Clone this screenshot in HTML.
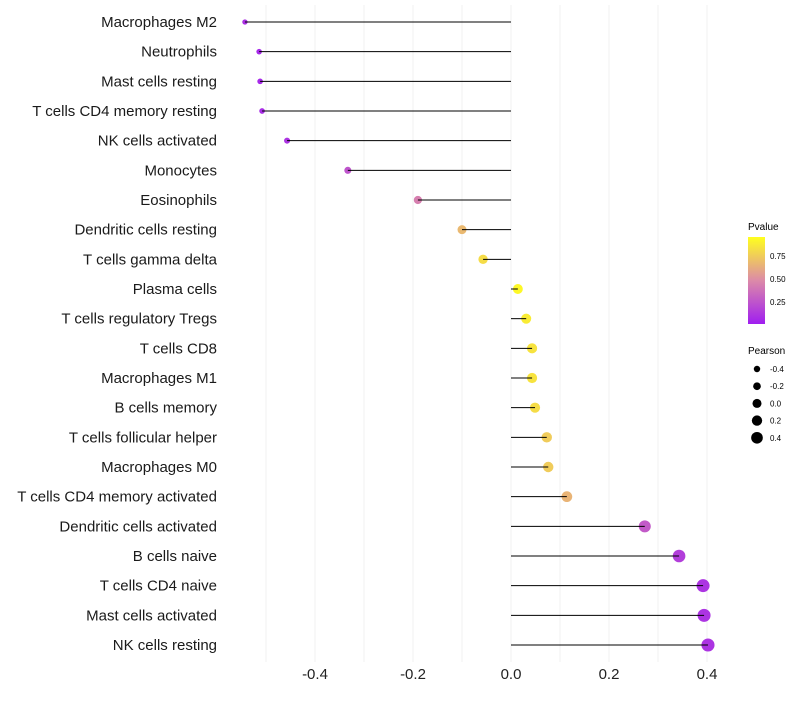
<!DOCTYPE html>
<html><head><meta charset="utf-8"><style>
body{margin:0;background:#fff}
svg text{font-family:"Liberation Sans",sans-serif}
</style></head><body>
<svg id="chart" width="800" height="700">
<defs><linearGradient id="pg" x1="0" y1="1" x2="0" y2="0">
<stop offset="0" stop-color="#a01ef0"/><stop offset="0.5" stop-color="#dc8aa8"/><stop offset="1" stop-color="#ffff1e"/>
</linearGradient></defs>
<g id="grid"></g><g id="points"></g><g id="marks"></g><g id="labels"></g>
<g>
<text x="748" y="230" font-size="10">Pvalue</text>
<rect x="748" y="237" width="17" height="87" fill="url(#pg)"/>
<text x="770" y="259" font-size="8">0.75</text>
<text x="770" y="282" font-size="8">0.50</text>
<text x="770" y="305" font-size="8">0.25</text>
</g>
<g id="sizeleg">
<text x="748" y="354" font-size="10">Pearson</text>
</g>
</svg>
<script>
const categories=["Macrophages M2","Neutrophils","Mast cells resting","T cells CD4 memory resting","NK cells activated","Monocytes","Eosinophils","Dendritic cells resting","T cells gamma delta","Plasma cells","T cells regulatory  Tregs ","T cells CD8","Macrophages M1","B cells memory","T cells follicular helper","Macrophages M0","T cells CD4 memory activated","Dendritic cells activated","B cells naive","T cells CD4 naive","Mast cells activated","NK cells resting"];
const pearson=[-0.543,-0.514,-0.512,-0.508,-0.457,-0.333,-0.190,-0.100,-0.057,0.014,0.031,0.043,0.043,0.049,0.073,0.076,0.114,0.273,0.343,0.392,0.394,0.402];
const pvalues=[0.08,0.05,0.05,0.07,0.1,0.25,0.45,0.7,0.85,0.97,0.92,0.88,0.88,0.85,0.78,0.78,0.68,0.28,0.15,0.1,0.1,0.1];
const xTicks=[-0.4,-0.2,0.0,0.2,0.4];
const sizeLegend=[-0.4,-0.2,0.0,0.2,0.4];
const NS="http://www.w3.org/2000/svg";
const x=v=>511+v*490;
const y=i=>22+i*(623/21);
const r=v=>Math.max(1.5,4.9+4.1*v);
function lerp(a,b,t){return a.map((c,k)=>Math.round(c+(b[k]-c)*t));}
function col(p){const s=[[160,30,240],[220,138,168],[255,255,30]];const c=p<0.5?lerp(s[0],s[1],p/0.5):lerp(s[1],s[2],(p-0.5)/0.5);return `rgb(${c})`;}
function mk(t,a,parent){const e=document.createElementNS(NS,t);for(const k in a)e.setAttribute(k,a[k]);parent.appendChild(e);return e;}
const grid=document.getElementById('grid'),marks=document.getElementById('marks'),points=document.getElementById('points'),labels=document.getElementById('labels');
for(let v=-0.5;v<=0.41;v+=0.1){const g=mk('line',{x1:x(v),x2:x(v),y1:5,y2:662,stroke:'#f0f0f0','stroke-width':1},grid);

}
xTicks.forEach(v=>{const t=mk('text',{x:x(v),y:679,'font-size':15,'text-anchor':'middle',fill:'#222'},labels);t.textContent=v.toFixed(1);

});
categories.forEach((c,i)=>{const t=mk('text',{x:217,y:y(i)+5,'font-size':15,'text-anchor':'end',fill:'#1a1a1a'},labels);t.textContent=c;


const p=mk('circle',{cx:x(pearson[i]),cy:y(i),r:r(pearson[i]),fill:col(pvalues[i])},points);


const l=mk('line',{x1:x(0),x2:x(pearson[i]),y1:y(i),y2:y(i),stroke:'#000','stroke-width':1},marks);

});
const sl=document.getElementById('sizeleg');
sizeLegend.forEach((v,i)=>{const cy=369+i*17.2;const c=mk('circle',{cx:757,cy:cy,r:r(v)*0.8+0.6,fill:'#000'},sl);


const t=mk('text',{x:770,y:cy+3,'font-size':8},sl);t.textContent=v.toFixed(1);

});
</script>
</body></html>
